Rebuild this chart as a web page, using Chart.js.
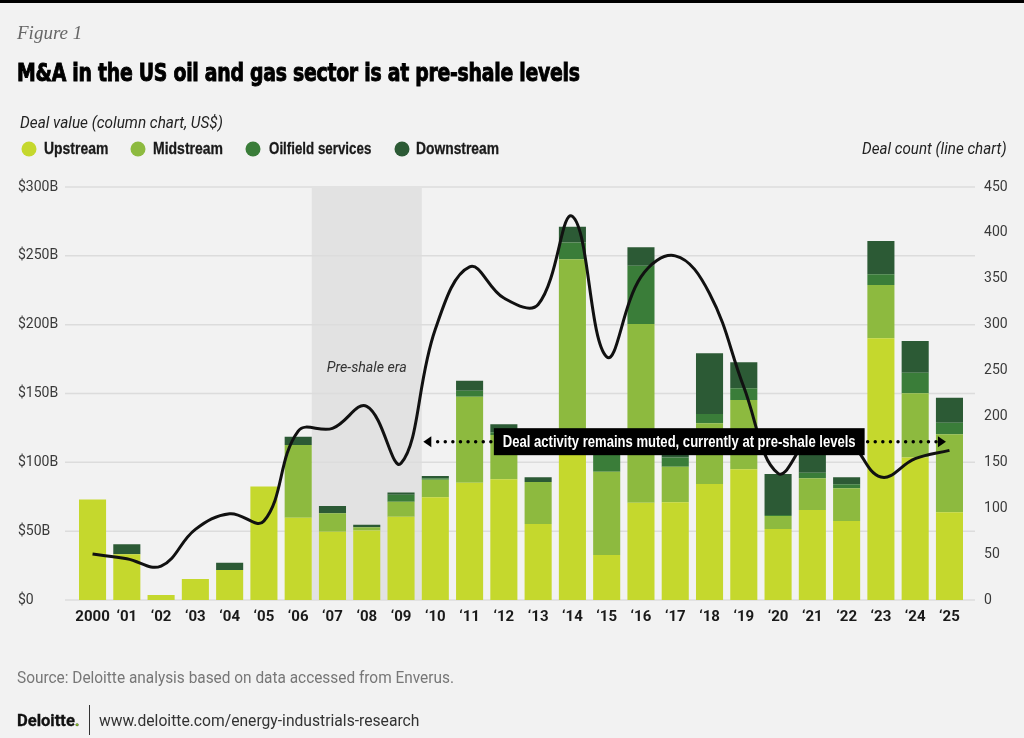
<!DOCTYPE html>
<html><head><meta charset="utf-8">
<script src="https://cdn.jsdelivr.net/npm/chart.js@4.4.1/dist/chart.umd.min.js"></script>
<style>
html,body{margin:0;padding:0;}
body{width:1024px;height:738px;background:#f2f2f2;position:relative;overflow:hidden;font-family:Roboto,sans-serif;}
#topbar{position:absolute;left:0;top:0;width:1024px;height:3px;background:#000;}
canvas{position:absolute;left:0;top:0;}
.t{position:absolute;white-space:nowrap;line-height:1;transform-origin:left center;transform:translateY(-50%);}
.r{transform-origin:right center;}
.dot{position:absolute;width:15px;height:15px;border-radius:50%;transform:translate(-50%,-50%);}
.lg{font:bold 17px 'Liberation Sans Narrow',sans-serif;color:#1a1a1a;-webkit-text-stroke:0.3px #1a1a1a;}
</style></head>
<body>
<div id="topbar"></div>
<canvas id="c" width="1024" height="738"></canvas>
<div class="t fit" data-w="65" style="left:17px;top:33px;font:italic 19px 'Liberation Serif',serif;color:#666">Figure 1</div>
<div class="t fit" data-w="563" style="left:17px;top:72px;font:bold 25px 'DejaVu Sans',sans-serif;font-stretch:condensed;color:#000;letter-spacing:-0.3px;-webkit-text-stroke:0.9px #000">M&amp;A in the US oil and gas sector is at pre-shale levels</div>
<div class="t fit" data-w="203" style="left:20px;top:122px;font:italic 16px Roboto,sans-serif;color:#222">Deal value (column chart, US$)</div>
<div class="dot" style="left:29px;top:149px;background:#c5d82d"></div>
<div class="t fit lg" data-w="64" style="left:44px;top:149px">Upstream</div>
<div class="dot" style="left:138px;top:149px;background:#8dba3f"></div>
<div class="t fit lg" data-w="70" style="left:153px;top:149px">Midstream</div>
<div class="dot" style="left:253px;top:149px;background:#3a7d39"></div>
<div class="t fit lg" data-w="102" style="left:269px;top:149px">Oilfield services</div>
<div class="dot" style="left:402px;top:149px;background:#2c5a35"></div>
<div class="t fit lg" data-w="83" style="left:416px;top:149px">Downstream</div>
<div class="t fit r" data-w="145" style="right:17px;top:148px;font:italic 16px Roboto,sans-serif;color:#222">Deal count (line chart)</div>
<div class="t fit" data-w="437" style="left:17px;top:677px;font:16px Roboto,sans-serif;color:#777">Source: Deloitte analysis based on data accessed from Enverus.</div>
<div class="t fit" data-w="63" style="left:17px;top:720px;font:bold 16px Roboto,sans-serif;color:#111;-webkit-text-stroke:0.3px #111">Deloitte<span style="color:#86bc25">.</span></div>
<div style="position:absolute;left:89px;top:705px;width:1px;height:30px;background:#333"></div>
<div class="t fit" data-w="320" style="left:99px;top:720px;font:16px Roboto,sans-serif;color:#333">www.deloitte.com/energy-industrials-research</div>
<script>
const years = ['2000','‘01','‘02','‘03','‘04','‘05','‘06','‘07','‘08','‘09','‘10','‘11','‘12','‘13','‘14','‘15','‘16','‘17','‘18','‘19','‘20','‘21','‘22','‘23','‘24','‘25'];
const upstream   = [73, 33.2, 3.6, 15.3, 21.8, 82.5, 59.8, 49.6, 50.4, 60.5, 74.6, 85.2, 87.7, 55.2, 115, 32.7, 70.7, 71, 84.3, 94.9, 51.6, 65.4, 57.4, 190.1, 103.6, 63.7];
const midstream  = [0, 0, 0, 0, 0, 0, 52.8, 13.4, 2.4, 10.9, 12.8, 62.5, 32.1, 30.5, 132.5, 60.5, 129.8, 25.8, 44.1, 50.4, 9.4, 23, 23.7, 38.7, 46.5, 56.7];
const oilfield   = [0, 0, 0, 0, 0, 0, 0, 0, 0, 5, 1, 4.3, 2, 0, 12.1, 18, 42.3, 6.8, 6.7, 8.5, 0.8, 4.1, 2.9, 7.8, 15, 8.4];
const downstream = [0, 7.3, 0, 0, 5.3, 0, 6, 5.3, 1.9, 1.6, 1.7, 7.3, 5.8, 3.4, 11.6, 0, 13.4, 8, 44.1, 18.9, 29.7, 16.5, 5.1, 24.2, 23, 18.2];
const dealCount  = [50, 45, 37, 77, 94, 86, 184, 187, 211, 149, 295, 363, 329, 322, 418, 265, 352, 375, 334, 232, 138, 178, 175, 134, 154, 163];
const valueTicks = [0, 50, 100, 150, 200, 250, 300];
const countTicks = [0, 50, 100, 150, 200, 250, 300, 350, 400, 450];
const shadeLabel = 'Pre-shale era';
const noteText = 'Deal activity remains muted, currently at pre-shale levels';

function fitAll(){
  document.querySelectorAll('.fit').forEach(el=>{
    const w = +el.dataset.w; const cur = el.offsetWidth;
    el.style.transform = 'translateY(-50%) scaleX(' + (w/cur) + ')';
  });
}
fitAll();

const BARPCT = 0.79;
function fitText(ctx, text, cx, cy, w){
  const m = ctx.measureText(text).width;
  ctx.save(); ctx.translate(cx, cy); ctx.scale(w/m, 1);
  ctx.textAlign='center'; ctx.textBaseline='middle';
  ctx.fillText(text, 0, 0); ctx.restore();
}
const decor = {
  id:'decor',
  beforeDatasetsDraw(chart){
    const {ctx, chartArea:a, scales:{x,y}} = chart;
    const bw = (x.getPixelForValue(1)-x.getPixelForValue(0))*BARPCT;
    const sx0 = x.getPixelForValue(6)+bw/2, sx1 = x.getPixelForValue(10)-bw/2;
    ctx.save();
    ctx.fillStyle='#e2e2e2';
    const top = y.getPixelForValue(300), bot = y.getPixelForValue(0);
    ctx.fillRect(sx0, top+1, sx1-sx0, bot-top-1);
    ctx.strokeStyle='#dcdcdc'; ctx.lineWidth=1.5;
    valueTicks.forEach(v=>{
      const py = y.getPixelForValue(v);
      ctx.beginPath(); ctx.moveTo(a.left-10.4,py); ctx.lineTo(a.right+8.4,py); ctx.stroke();
    });
    ctx.fillStyle='#333';
    ctx.font="italic 15px Roboto, sans-serif";
    fitText(ctx, shadeLabel, (sx0+sx1)/2, y.getPixelForValue(168), 80);
    ctx.restore();
  },
  afterDatasetsDraw(chart){
    const {ctx, scales:{x,y}} = chart;
    const cy = y.getPixelForValue(115);
    const bx0 = x.getPixelForValue(12)-10, bx1 = x.getPixelForValue(22)+18;
    ctx.save();
    ctx.fillStyle='#000';
    ctx.fillRect(bx0, cy-13.5, bx1-bx0, 27);
    ctx.fillStyle='#fff';
    ctx.font="bold 16px 'Liberation Sans Narrow', sans-serif";
    fitText(ctx, noteText, (bx0+bx1)/2, cy+0.5, bx1-bx0-18);
    ctx.strokeStyle='#000'; ctx.lineWidth=3.5; ctx.lineCap='round'; ctx.setLineDash([0,7.6]);
    const lt = x.getPixelForValue(10)-12, rt = x.getPixelForValue(25)-3.5;
    ctx.beginPath(); ctx.moveTo(bx0-3, cy); ctx.lineTo(lt+10, cy); ctx.stroke();
    ctx.beginPath(); ctx.moveTo(bx1+3, cy); ctx.lineTo(rt-9, cy); ctx.stroke();
    ctx.setLineDash([]);
    ctx.fillStyle='#000';
    ctx.beginPath(); ctx.moveTo(lt, cy); ctx.lineTo(lt+8, cy-5.5); ctx.lineTo(lt+8, cy+5.5); ctx.closePath(); ctx.fill();
    ctx.beginPath(); ctx.moveTo(rt, cy); ctx.lineTo(rt-8, cy-5.5); ctx.lineTo(rt-8, cy+5.5); ctx.closePath(); ctx.fill();
    ctx.restore();
  }
};

const tickFont = {family:'Roboto, sans-serif', size:14};
new Chart(document.getElementById('c'), {
  data:{
    labels: years,
    datasets:[
      {type:'line', label:'Deal count', data:dealCount, yAxisID:'y1', borderColor:'#111', borderWidth:3, tension:0.4, pointRadius:0, fill:false, order:0},
      {type:'bar', label:'Upstream', data:upstream, backgroundColor:'#c5d82d', yAxisID:'y', stack:'s', order:1},
      {type:'bar', label:'Midstream', data:midstream, backgroundColor:'#8dba3f', yAxisID:'y', stack:'s', order:1},
      {type:'bar', label:'Oilfield services', data:oilfield, backgroundColor:'#3a7d39', yAxisID:'y', stack:'s', order:1},
      {type:'bar', label:'Downstream', data:downstream, backgroundColor:'#2c5a35', yAxisID:'y', stack:'s', order:1}
    ]
  },
  options:{
    responsive:false, animation:false, devicePixelRatio:1,
    layout:{padding:{left:18, top:187, right:0, bottom:0}},
    plugins:{legend:{display:false}, tooltip:{enabled:false}},
    datasets:{bar:{categoryPercentage:1, barPercentage:BARPCT}},
    scales:{
      x:{stacked:true, grid:{display:false, drawTicks:false}, border:{display:false},
         ticks:{autoSkip:false, maxRotation:0, padding:8, color:'#1a1a1a', font:{family:"Roboto, sans-serif", size:15, weight:'bold'}},
         afterFit(s){ s.height = 138; }},
      y:{stacked:true, min:0, max:300, grid:{display:false, drawTicks:false}, border:{display:false},
         afterBuildTicks(s){ s.ticks = valueTicks.map(v=>({value:v})); },
         ticks:{callback:v=> v===0 ? '$0' : '$'+v+'B', crossAlign:'far', color:'#3a3a3a', font:tickFont},
         afterFit(s){ s.width = 57.4; }},
      y1:{position:'right', min:0, max:450, grid:{display:false, drawTicks:false}, border:{display:false},
         afterBuildTicks(s){ s.ticks = countTicks.map(v=>({value:v})); },
         ticks:{padding:17.5, color:'#3a3a3a', font:tickFont},
         afterFit(s){ s.width = 57.4; }}
    }
  },
  plugins:[decor]
});
</script>
</body></html>
